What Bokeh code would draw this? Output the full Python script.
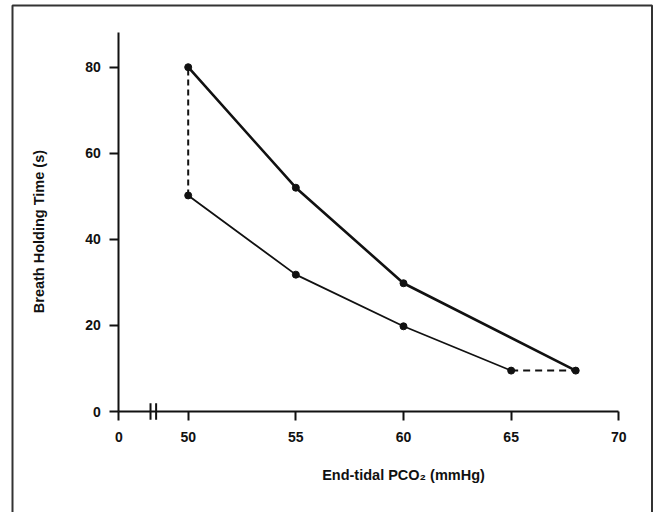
from bokeh.plotting import figure
from bokeh.models import (Range1d, LinearAxis, FixedTicker)
from bokeh.core.properties import value
from bokeh.embed import file_html
from bokeh.resources import INLINE

# ---- data ----
pco2_upper = [50, 55, 60, 68]
bht_upper = [80, 52, 29.8, 9.5]
pco2_lower = [50, 55, 60, 65]
bht_lower = [50.2, 31.8, 19.8, 9.5]

x_tick_values = [0, 50, 55, 60, 65, 70]
y_tick_values = [0, 20, 40, 60, 80]

# broken x axis: 0 is drawn a little left of 50
X_ZERO = 46.777
BREAK_A = 48.25
BREAK_B = 48.51


def xd(v):
    return X_ZERO if v == 0 else v


FONT = "Liberation Sans"
INK = "#111111"

W, H = 653, 512
X0, X1 = 41.282, 71.612
Y0, Y1 = -23.467, 95.497


# helpers for the decorative outer border (pixel -> data)
def px_x(c):
    return X0 + c * (X1 - X0) / W


def px_y(c):
    return Y1 - c * (Y1 - Y0) / H


p = figure(width=W, height=H, output_backend="svg", toolbar_location=None,
           x_range=Range1d(X0, X1), y_range=Range1d(Y0, Y1),
           x_axis_type=None, y_axis_type=None,
           min_border=0, min_border_left=0, min_border_right=0,
           min_border_top=0, min_border_bottom=0)
p.grid.visible = False
p.outline_line_color = None
p.background_fill_color = "white"
p.border_fill_color = "white"

# outer frame of the (cropped) figure: open at the bottom
p.line(x=[px_x(12), px_x(12), px_x(651.5), px_x(651.5)],
       y=[px_y(530), px_y(5), px_y(5), px_y(530)],
       line_color="#333333", line_width=2)

# axes
xt = [xd(v) for v in x_tick_values]
xaxis = LinearAxis(fixed_location=0, bounds=(X_ZERO, 70),
                   ticker=FixedTicker(ticks=xt, minor_ticks=[]))
xaxis.major_label_overrides = {xd(v): str(v) for v in x_tick_values}
yaxis = LinearAxis(fixed_location=X_ZERO, bounds=(0, 88),
                   ticker=FixedTicker(ticks=y_tick_values, minor_ticks=[]))
for ax in (xaxis, yaxis):
    ax.axis_line_color = INK
    ax.axis_line_width = 2
    ax.major_tick_line_color = INK
    ax.major_tick_line_width = 2
    ax.major_tick_out = 9
    ax.major_tick_in = 0
    ax.minor_tick_line_color = None
    ax.major_label_text_font = FONT
    ax.major_label_text_font_style = "bold"
    ax.major_label_text_font_size = "14px"
    ax.major_label_text_color = INK
xaxis.major_label_standoff = 11
yaxis.major_label_standoff = 9
p.add_layout(xaxis, "below")
p.add_layout(yaxis, "left")

# axis break marks
p.segment(x0=[BREAK_A, BREAK_B], y0=[-1.9, -1.9], x1=[BREAK_A, BREAK_B], y1=[1.9, 1.9],
          line_color=INK, line_width=2)

# dashed connectors
p.line(x=[pco2_lower[0], pco2_upper[0]], y=[bht_lower[0], bht_upper[0]],
       line_color=INK, line_width=2, line_dash="6 4")
p.line(x=[pco2_lower[-1], pco2_upper[-1]], y=[bht_lower[-1], bht_upper[-1]],
       line_color=INK, line_width=2, line_dash="7 5")

# data lines
p.line(x=pco2_upper, y=bht_upper, line_color=INK, line_width=2.6)
p.line(x=pco2_lower, y=bht_lower, line_color=INK, line_width=1.8)
p.scatter(x=pco2_upper, y=bht_upper, size=7, color=INK)
p.scatter(x=pco2_lower, y=bht_lower, size=7, color=INK)

# axis titles
p.text(x=[60], y=[-14.64], text=["End-tidal PCO\u2082 (mmHg)"],
       text_font=value(FONT), text_font_style="bold", text_font_size="14.5px",
       text_color=INK, text_align="center", text_baseline="alphabetic")
p.text(x=[43.05], y=[41.8], text=["Breath Holding Time (s)"], angle=1.5707963,
       text_font=value(FONT), text_font_style="bold", text_font_size="14.5px",
       text_color=INK, text_align="center", text_baseline="middle")

open("out.html", "w").write(file_html(p, INLINE))
